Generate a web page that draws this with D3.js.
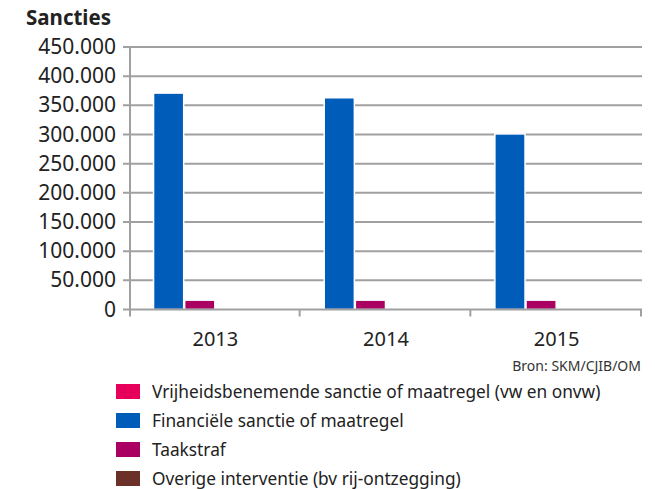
<!DOCTYPE html>
<html>
<head>
<meta charset="utf-8">
<script src="https://cdn.jsdelivr.net/npm/d3@7"></script>
<style>
  body { margin: 0; background: #fff; }
  text { font-family: "Noto Sans", sans-serif; fill: #222; }
</style>
</head>
<body>
<div id="chart"></div>
<script>
// categories and series
let years = ['2013', '2014', '2015'];
let seriesNames = ['Vrijheidsbenemende sanctie of maatregel (vw en onvw)',
                   'Financiële sanctie of maatregel',
                   'Taakstraf',
                   'Overige interventie (bv rij-ontzegging)'];
let vrijheid = [0, 0, 0];
let financieel = [371000, 363000, 301000];
let taakstraf = [16000, 16000, 16000];
let overige = [0, 0, 0];
let seriesColors = ['#e6005c', '#005cb9', '#a90061', '#6b3128'];
// bar slot order inside a year group
let barOrder = [1, 2, 0, 3];
let yTicks = [0, 50000, 100000, 150000, 200000, 250000, 300000, 350000, 400000, 450000];

let allValues = [vrijheid, financieel, taakstraf, overige];

let W = 655, H = 489;
let margin = { top: 47, left: 130, right: 13, bottom: 180 };

let svg = d3.select('#chart').append('svg')
    .attr('width', W)
    .attr('height', H);

let x0 = d3.scaleBand()
    .domain(years)
    .range([margin.left, W - margin.right]);

let x1 = d3.scaleBand()
    .domain(barOrder)
    .range([0, x0.bandwidth()])
    .paddingOuter(0.74)
    .paddingInner(0.0);

let y = d3.scaleLinear()
    .domain([0, 450000])
    .range([H - margin.bottom + 0.5, margin.top]);

let fmt = d => d3.format(',')(d).replace(/,/g, '.');

// gridlines
svg.append('g').selectAll('line')
    .data(yTicks.slice(1))
    .enter().append('line')
    .attr('x1', margin.left - 7)
    .attr('x2', W - margin.right)
    .attr('y1', d => y(d))
    .attr('y2', d => y(d))
    .attr('stroke', '#a0a0a0')
    .attr('stroke-width', 2);

// y labels
svg.append('g').selectAll('text')
    .data(yTicks)
    .enter().append('text')
    .attr('x', 116)
    .attr('y', d => y(d) + 7)
    .attr('text-anchor', 'end')
    .style('font-size', '21px')
    .text(fmt);

// bars
let groups = svg.append('g').selectAll('g')
    .data(years)
    .enter().append('g')
    .attr('transform', d => 'translate(' + x0(d) + ',0)');

groups.selectAll('rect')
    .data((d, i) => barOrder.map(s => ({ s: s, v: allValues[s][i] })))
    .enter().append('rect')
    .attr('x', d => x1(d.s) + 0.5)
    .attr('width', x1.bandwidth() - 1)
    .attr('y', d => y(d.v))
    .attr('height', d => y(0) - y(d.v))
    .attr('fill', d => seriesColors[d.s])
    .attr('stroke', '#fff')
    .attr('stroke-width', d => d.v > 0 ? 1.5 : 0);

// x axis baseline
let base = y(0);
svg.append('line')
    .attr('x1', margin.left - 7).attr('x2', W - margin.right)
    .attr('y1', base).attr('y2', base)
    .attr('stroke', '#a0a0a0').attr('stroke-width', 2);

// y axis line
svg.append('line')
    .attr('x1', margin.left).attr('x2', margin.left)
    .attr('y1', margin.top - 1).attr('y2', base + 7)
    .attr('stroke', '#a0a0a0').attr('stroke-width', 2);

// x ticks at band edges
let edges = years.map(d => x0(d)).concat([x0(years[years.length - 1]) + x0.bandwidth()]);
svg.append('g').selectAll('line')
    .data(edges.slice(1))
    .enter().append('line')
    .attr('x1', d => d - 1).attr('x2', d => d - 1)
    .attr('y1', base).attr('y2', base + 7)
    .attr('stroke', '#a0a0a0').attr('stroke-width', 2);

// x labels
svg.append('g').selectAll('text')
    .data(years)
    .enter().append('text')
    .attr('x', d => x0(d) + x0.bandwidth() / 2)
    .attr('y', 346)
    .attr('text-anchor', 'middle')
    .style('font-size', '20px')
    .text(d => d);

// title
svg.append('text')
    .attr('x', 26).attr('y', 25)
    .style('font-size', '20.5px')
    .style('font-weight', 'bold')
    .text('Sancties');

// source
svg.append('text')
    .attr('x', 641).attr('y', 371)
    .attr('text-anchor', 'end')
    .style('font-size', '14px')
    .style('fill', '#333')
    .text('Bron: SKM/CJIB/OM');

// legend
let legend = svg.append('g').selectAll('g')
    .data(seriesNames)
    .enter().append('g')
    .attr('transform', (d, i) => 'translate(116,' + (384 + i * 29) + ')');

legend.append('rect')
    .attr('width', 24).attr('height', 15)
    .attr('fill', (d, i) => seriesColors[i]);

legend.append('text')
    .attr('x', 36).attr('y', 14)
    .style('font-size', '17.3px')
    .text(d => d);
</script>
</body>
</html>
